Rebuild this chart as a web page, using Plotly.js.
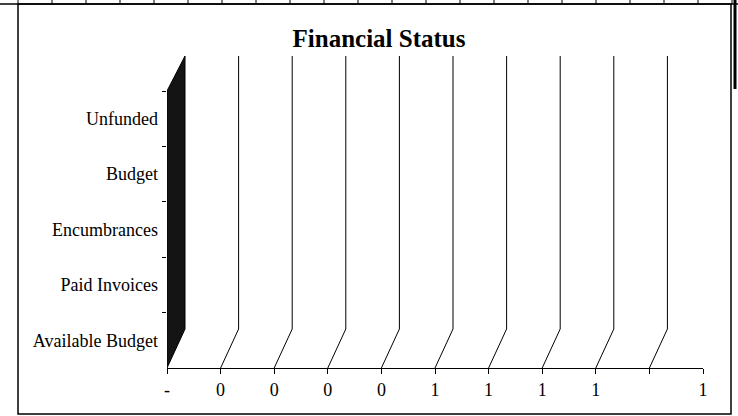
<!DOCTYPE html>
<html>
<head>
<meta charset="utf-8">
<script src="https://cdn.plot.ly/plotly-3.0.1.min.js"></script>
<style>
  html, body { margin: 0; padding: 0; background: #ffffff; }
  #chart { width: 738px; height: 416px; }
</style>
</head>
<body>
<div id="chart"></div>
<script>
// ---- data ----
const categories = ['Unfunded', 'Budget', 'Encumbrances', 'Paid Invoices', 'Available Budget'];
const values = [0, 0, 0, 0, 0];
const tickValues = [0, 0.1, 0.2, 0.3, 0.4, 0.5, 0.6, 0.7, 0.8, 0.9, 1];
const tickLabels = ['-', '0', '0', '0', '0', '1', '1', '1', '1', '', '1'];
const gridValues = [0.1, 0.2, 0.3, 0.4, 0.5, 0.6, 0.7, 0.8, 0.9];
const chartTitle = 'Financial Status';

// ---- layout geometry ----
const W = 738, H = 416;
const M = { l: 167, r: 17, t: 56, b: 48 };
const PW = W - M.l - M.r, PH = H - M.t - M.b;
const px = x => (x - M.l) / PW;          // pixel -> paper x
const py = y => (H - M.b - y) / PH;      // pixel -> paper y
const DEPTH_X = 18;                      // 3-D depth offset (px)
const frontTop = py(91);                 // front plane top (paper)
const backBottom = py(329);              // back wall bottom (paper)
const SERIF = '"Liberation Serif", "Times New Roman", Times, serif';

const shapes = [];

// left wall (dark 3-D side)
shapes.push({
  type: 'path', xref: 'x', xsizemode: 'pixel', xanchor: tickValues[0], yref: 'paper',
  path: `M0,0 L${DEPTH_X},${backBottom} L${DEPTH_X},1 L0,${frontTop} Z`,
  fillcolor: '#141414', line: { color: '#000', width: 1 }, layer: 'above'
});

// back wall gridlines and floor diagonals
gridValues.forEach(v => {
  shapes.push({
    type: 'line', xref: 'x', xsizemode: 'pixel', xanchor: v, x0: DEPTH_X, x1: DEPTH_X,
    yref: 'paper', y0: backBottom, y1: 1, line: { color: '#000', width: 1 }, layer: 'below'
  });
  shapes.push({
    type: 'line', xref: 'x', xsizemode: 'pixel', xanchor: v, x0: 0, x1: DEPTH_X,
    yref: 'paper', y0: 0, y1: backBottom, line: { color: '#000', width: 1 }, layer: 'below'
  });
});

// chart border
shapes.push({
  type: 'rect', xref: 'paper', yref: 'paper',
  x0: px(18), x1: px(731), y0: py(414), y1: py(4),
  line: { color: '#000', width: 1.5 }, fillcolor: 'rgba(0,0,0,0)', layer: 'below'
});
// spreadsheet row line at the top
shapes.push({
  type: 'line', xref: 'paper', yref: 'paper',
  x0: px(0), x1: px(738), y0: py(4), y1: py(4), line: { color: '#000', width: 1.5 }
});
// spreadsheet cell edges above the chart
for (let x = 18; x <= 732; x += 34) {
  shapes.push({
    type: 'line', xref: 'paper', yref: 'paper',
    x0: px(x), x1: px(x), y0: py(4), y1: py(0), line: { color: '#000', width: 1 }
  });
}
// dark line on the right edge
shapes.push({
  type: 'line', xref: 'paper', yref: 'paper',
  x0: px(735), x1: px(735), y0: py(89), y1: py(0), line: { color: '#000', width: 3 }
});

const trace = {
  type: 'bar', orientation: 'h',
  x: values, y: categories,
  marker: { color: '#333333' },
  hoverinfo: 'skip', showlegend: false
};

const layout = {
  width: W, height: H, autosize: false,
  margin: { l: M.l, r: M.r, t: M.t, b: M.b, pad: 0 },
  paper_bgcolor: '#ffffff', plot_bgcolor: 'rgba(0,0,0,0)',
  font: { family: SERIF, size: 18, color: '#000' },
  title: {
    text: '<b>' + chartTitle + '</b>',
    font: { family: SERIF, size: 25, color: '#000' },
    xref: 'container', yref: 'container',
    x: 379 / W, xanchor: 'center',
    y: 1 - 38 / H, yanchor: 'middle'
  },
  xaxis: {
    domain: [0, px(703)],
    range: [0, 1],
    tickmode: 'array', tickvals: tickValues, ticktext: tickLabels,
    ticks: 'outside', ticklen: 5, tickwidth: 1, tickcolor: '#000',
    showline: true, linecolor: '#000', linewidth: 1,
    showgrid: false, zeroline: false,
    tickfont: { family: SERIF, size: 18, color: '#000' },
    fixedrange: true
  },
  yaxis: {
    domain: [0, frontTop],
    type: 'category',
    categoryorder: 'array', categoryarray: categories,
    autorange: 'reversed',
    tickson: 'boundaries',
    ticks: 'outside', ticklen: 4, tickwidth: 1, tickcolor: '#000',
    ticklabelstandoff: 8,
    showline: false, showgrid: false, zeroline: false,
    tickfont: { family: SERIF, size: 18, color: '#000' },
    fixedrange: true
  },
  bargap: 0.4,
  shapes: shapes
};

Plotly.newPlot('chart', [trace], layout, { displayModeBar: false, staticPlot: true });
</script>
</body>
</html>
